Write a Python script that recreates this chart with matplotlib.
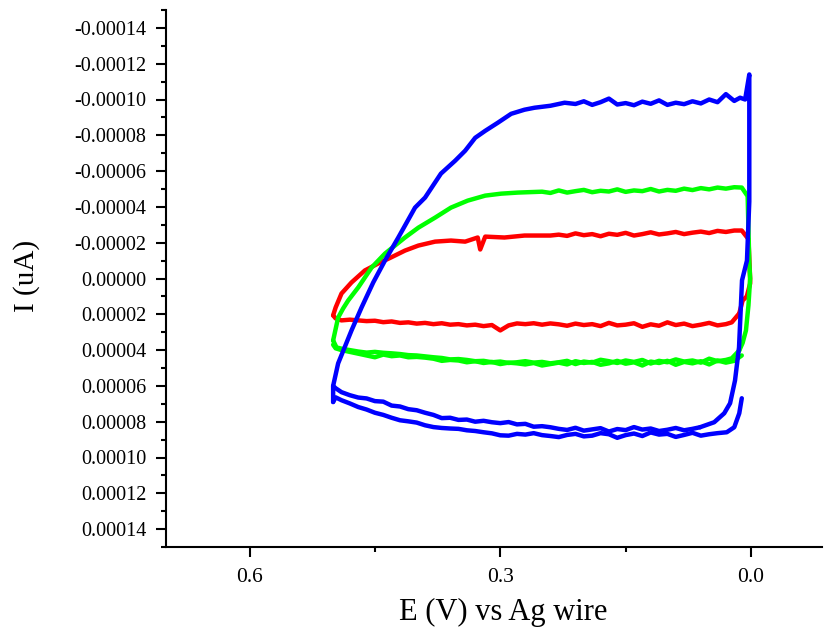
import numpy as np
import matplotlib
matplotlib.use("Agg")
import matplotlib.pyplot as plt
from matplotlib.ticker import MultipleLocator

plt.rcParams['font.family'] = ['Liberation Serif', 'DejaVu Serif']

# potential grid (V) used by the flat parts of the sweeps
e_grid = [0.02, 0.03, 0.04, 0.05, 0.06, 0.07, 0.08, 0.09, 0.10, 0.11, 0.12, 0.13,
          0.14, 0.15, 0.16, 0.17, 0.18, 0.19, 0.20, 0.21, 0.22, 0.23, 0.24, 0.25,
          0.26, 0.27, 0.28, 0.29, 0.30, 0.31, 0.32, 0.33, 0.34, 0.35, 0.36, 0.37,
          0.38, 0.39, 0.40, 0.41, 0.42, 0.43, 0.44, 0.45, 0.46, 0.47, 0.48, 0.49]

# ---- blue (currents in 1e-5 A) ----
blue_up_E = ([0.500, 0.500, 0.494, 0.478, 0.466, 0.452, 0.438, 0.422, 0.402, 0.390,
              0.371, 0.354, 0.342, 0.330, 0.318, 0.303, 0.287, 0.271, 0.259, 0.240, 0.223]
             + e_grid[19::-1]
             + [0.013, 0.007, 0.002, 0.002, 0.0048, 0.0107, 0.0143, 0.0191, 0.025, 0.032, 0.044, 0.061])
blue_up_I = ([6.9, 6.0, 4.74, 2.90, 1.62, 0.22, -1.00, -2.29, -3.96, -4.52,
              -5.86, -6.58, -7.14, -7.86, -8.25, -8.70, -9.20, -9.43, -9.54, -9.65, -9.82,
              -9.75, -9.90, -9.70, -9.85, -10.05, -9.72, -9.80, -9.68, -9.88, -9.76,
              -9.95, -9.70, -9.82, -9.74, -9.90, -9.78, -10.00, -9.85, -10.30, -9.92,
              -10.1, -10.0, -11.4, -4.3, -1.0, 0.1, 3.85, 5.7, 6.97, 7.53, 8.03, 8.31])
blue_lowA_E = [0.061] + e_grid[5:] + [0.497, 0.500]
blue_lowA_I = [8.31,
               8.40, 8.48, 8.35, 8.45, 8.52, 8.38, 8.44, 8.30, 8.47, 8.41, 8.55, 8.36,
               8.43, 8.50, 8.34, 8.46, 8.40,
               8.31, 8.25, 8.28, 8.12, 8.15, 8.02, 8.08, 8.03, 7.95, 8.00, 7.88, 7.90,
               7.78, 7.80, 7.62, 7.50, 7.36, 7.30, 7.15, 7.10, 6.88, 6.85, 6.70, 6.65,
               6.52, 6.35, 6.13, 6.0]
blue_lowB_E = [0.011, 0.014, 0.020, 0.029, 0.04] + e_grid[3:] + [0.497, 0.500]
blue_lowB_I = [6.69, 7.53, 8.31, 8.59, 8.64,
               8.70, 8.78, 8.62, 8.74, 8.85, 8.68, 8.72, 8.60, 8.80, 8.66, 8.75, 8.90,
               8.70, 8.64, 8.78, 8.82, 8.68, 8.74, 8.86,
               8.80, 8.75, 8.64, 8.72, 8.68, 8.78, 8.76, 8.65, 8.59, 8.52, 8.48, 8.40,
               8.38, 8.35, 8.30, 8.20, 8.05, 7.98, 7.92, 7.78, 7.62, 7.50, 7.32, 7.18,
               6.98, 6.80, 6.64, 6.9]

# ---- green ----
green_up_E = ([0.500, 0.494, 0.488, 0.482, 0.470, 0.454, 0.438, 0.414, 0.398, 0.378,
               0.359, 0.339, 0.318, 0.299, 0.279]
              + e_grid[23::-1]
              + [0.011, 0.004, 0.002, 0.001, 0.003, 0.006, 0.010, 0.014])
green_up_I = ([3.46, 2.18, 1.67, 1.23, 0.50, -0.61, -1.39, -2.29, -2.84, -3.40,
               -3.96, -4.35, -4.63, -4.74, -4.80,
               -4.85, -4.78, -4.92, -4.80, -4.88, -4.95, -4.82, -4.90, -4.86, -4.98,
               -4.84, -4.92, -4.88, -5.00, -4.86, -4.95, -4.90, -5.02, -4.94, -5.05,
               -4.98, -5.08, -5.02, -5.10,
               -5.08, -4.6, -0.9, 0.0, 1.5, 2.9, 3.6, 4.02])
green_low_E = [0.014, 0.023] + e_grid[1:] + [0.496, 0.500]
green_low_I = [4.02, 4.46,
               4.55, 4.62, 4.48, 4.70, 4.58, 4.64, 4.52, 4.68, 4.60, 4.75, 4.55, 4.66,
               4.58, 4.72, 4.62, 4.54, 4.70, 4.64, 4.78, 4.60, 4.68,
               4.74, 4.66, 4.70, 4.62, 4.68, 4.72, 4.64, 4.68, 4.60, 4.62, 4.55, 4.50,
               4.52, 4.44, 4.40, 4.35, 4.30, 4.28, 4.22, 4.18, 4.15, 4.10, 4.14, 4.08,
               4.00, 3.92, 3.85, 3.46]
green_low2_E = [0.011, 0.02] + e_grid[1:] + [0.497, 0.500]
green_low2_I = [4.30, 4.60,
                4.70, 4.58, 4.80, 4.62, 4.74, 4.66, 4.82, 4.60, 4.72, 4.64, 4.86, 4.68,
                4.76, 4.60, 4.74, 4.82, 4.66, 4.72, 4.62, 4.80, 4.70,
                4.78, 4.86, 4.72, 4.80, 4.74, 4.70, 4.78, 4.66, 4.72, 4.62, 4.68, 4.58,
                4.55, 4.60, 4.48, 4.42, 4.38, 4.40, 4.30, 4.34, 4.25, 4.40, 4.30, 4.20,
                4.10, 4.00, 3.90, 3.70]

# ---- red ----
red_up_E = ([0.500, 0.497, 0.490, 0.478, 0.462, 0.446, 0.431, 0.414, 0.398, 0.378,
             0.359, 0.342, 0.327, 0.324, 0.318, 0.295, 0.271, 0.240]
            + e_grid[21::-1]
            + [0.011, 0.003, 0.001, 0.001, 0.005, 0.010, 0.014])
red_up_I = ([2.06, 1.62, 0.84, 0.22, -0.45, -0.84, -1.17, -1.56, -1.84, -2.06,
             -2.12, -2.06, -2.29, -1.62, -2.34, -2.29, -2.40, -2.40,
             -2.45, -2.38, -2.52, -2.42, -2.48, -2.36, -2.50, -2.44, -2.55, -2.40,
             -2.48, -2.58, -2.46, -2.52, -2.60, -2.48, -2.56, -2.62, -2.54, -2.66,
             -2.60, -2.68,
             -2.68, -2.2, 0.0, 0.28, 1.0, 1.23, 1.95])
red_low_E = [0.014, 0.023] + e_grid[1:] + [0.497, 0.500]
red_low_I = [1.95, 2.45,
             2.55, 2.62, 2.48, 2.58, 2.66, 2.52, 2.60, 2.45, 2.64, 2.56, 2.70, 2.50,
             2.58, 2.62, 2.48, 2.66, 2.55, 2.60, 2.52, 2.64, 2.56,
             2.51, 2.58, 2.50, 2.55, 2.51, 2.62, 2.90, 2.60, 2.66, 2.58, 2.62, 2.55,
             2.58, 2.50, 2.55, 2.48, 2.52, 2.45, 2.48, 2.40, 2.44, 2.36, 2.38, 2.34,
             2.30, 2.34, 2.23, 2.06]

y_ticks = [-0.00014, -0.00012, -0.00010, -0.00008, -0.00006, -0.00004, -0.00002, 0.0,
           0.00002, 0.00004, 0.00006, 0.00008, 0.00010, 0.00012, 0.00014]
y_labels = ['-0.00014', '-0.00012', '-0.00010', '-0.00008', '-0.00006', '-0.00004',
            '-0.00002', '0.00000', '0.00002', '0.00004', '0.00006', '0.00008',
            '0.00010', '0.00012', '0.00014']
x_ticks = [0.6, 0.3, 0.0]
x_labels = ['0.6', '0.3', '0.0']

fig = plt.figure(figsize=(8.25, 6.37), dpi=100)
ax = fig.add_axes([166 / 825, 1 - 547 / 637, 656 / 825, 537 / 637])

lw = 3.2
scale = 1e-5
series = [
    ('#ff0000', [(red_up_E, red_up_I), (red_low_E, red_low_I)]),
    ('#00ff00', [(green_up_E, green_up_I), (green_low_E, green_low_I), (green_low2_E, green_low2_I)]),
    ('#0000ff', [(blue_lowB_E, blue_lowB_I), (blue_up_E, blue_up_I), (blue_lowA_E, blue_lowA_I)]),
]
for color, parts in series:
    for e, i in parts:
        ax.plot(e, np.array(i) * scale, color=color, lw=lw, solid_joinstyle='round',
                solid_capstyle='round')

ax.set_xlim(0.70, -0.085)
ax.set_ylim(0.00015, -0.00015)

ax.set_xticks(x_ticks)
ax.set_xticklabels(x_labels)
ax.xaxis.set_minor_locator(MultipleLocator(0.15))
ax.set_yticks(y_ticks)
ax.set_yticklabels(y_labels)
ax.yaxis.set_minor_locator(MultipleLocator(0.00001))

ax.spines['top'].set_visible(False)
ax.spines['right'].set_visible(False)
for s in ('left', 'bottom'):
    ax.spines[s].set_linewidth(1.5)
ax.tick_params(which='major', direction='out', length=7, width=1.5, labelsize=14.5, pad=7)
ax.tick_params(which='minor', direction='out', length=3.5, width=1.5)
ax.tick_params(axis='x', which='major', labelsize=15.5, pad=8)

ax.set_xlabel('E (V) vs Ag wire', fontsize=22)
ax.set_ylabel('I (uA)', fontsize=21)
ax.xaxis.set_label_coords((503 - 166) / 656, -(612 - 547) / 537)
ax.yaxis.set_label_coords((27 - 166) / 656, (547 - 276) / 537)
ax.xaxis.label.set_va('center')
ax.yaxis.label.set_va('center')

fig.savefig('out.png', dpi=100)
